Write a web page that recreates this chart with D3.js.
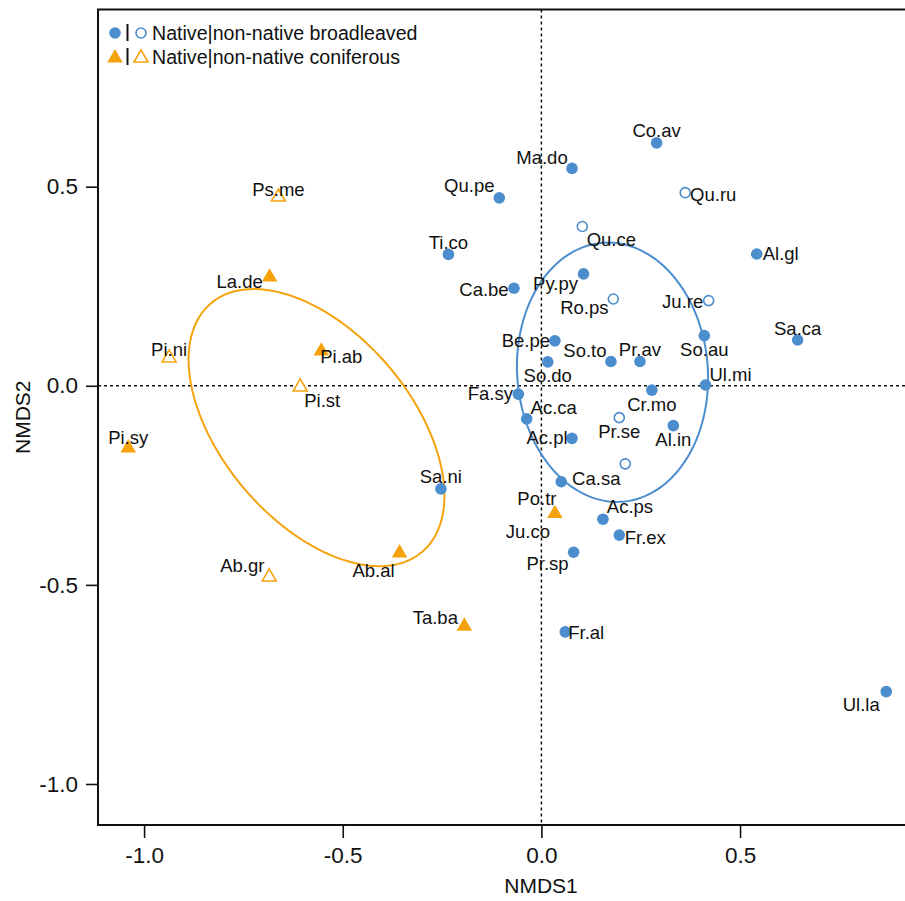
<!DOCTYPE html>
<html>
<head>
<meta charset="utf-8">
<script src="https://cdn.jsdelivr.net/npm/d3@7"></script>
<style>
  html, body { margin: 0; padding: 0; background: #fff; overflow: hidden; }
  svg { display: block; }
  text { font-family: "Liberation Sans", Arial, sans-serif; fill: #111; }
</style>
</head>
<body>
<div id="chart"></div>
<script>
// NMDS ordination scores of tree species: [species, NMDS1, NMDS2]
const nativeBroadleaved = [
  ["Co.av", 0.290, 0.610], ["Ma.do", 0.077, 0.546], ["Qu.pe", -0.106, 0.472],
  ["Ti.co", -0.234, 0.330], ["Al.gl", 0.542, 0.331], ["Py.py", 0.106, 0.281],
  ["Ca.be", -0.069, 0.245], ["Be.pe", 0.034, 0.113], ["So.au", 0.410, 0.126],
  ["Sa.ca", 0.645, 0.115], ["So.do", 0.016, 0.060], ["So.to", 0.175, 0.061],
  ["Pr.av", 0.248, 0.061], ["Ul.mi", 0.413, 0.002], ["Cr.mo", 0.278, -0.011],
  ["Fa.sy", -0.058, -0.021], ["Ac.ca", -0.037, -0.083], ["Al.in", 0.332, -0.100],
  ["Ac.pl", 0.077, -0.132], ["Ca.sa", 0.050, -0.241], ["Sa.ni", -0.253, -0.259],
  ["Ac.ps", 0.155, -0.335], ["Fr.ex", 0.196, -0.375], ["Pr.sp", 0.081, -0.418],
  ["Fr.al", 0.060, -0.618], ["Ul.la", 0.868, -0.768]
];
const nonNativeBroadleaved = [
  ["Qu.ru", 0.362, 0.485], ["Qu.ce", 0.103, 0.400], ["Ro.ps", 0.181, 0.218],
  ["Ju.re", 0.421, 0.214], ["Pr.se", 0.196, -0.080], ["", 0.211, -0.196]
];
const nativeConiferous = [
  ["La.de", -0.684, 0.273], ["Pi.ab", -0.554, 0.087], ["Pi.sy", -1.040, -0.156],
  ["Ab.al", -0.357, -0.420], ["Ta.ba", -0.194, -0.604], ["Ju.co", 0.034, -0.321]
];
const nonNativeConiferous = [
  ["Ps.me", -0.662, 0.474], ["Pi.ni", -0.937, 0.070], ["Pi.st", -0.607, -0.003],
  ["Ab.gr", -0.685, -0.480]
];
// species sharing a plotted position with another species
const sharedPosition = [["Po.tr", "Ju.co"]];

// group dispersion ellipses: centre, semi-axes and orientation (degrees)
const ellipseBroadleaved = [0.179, 0.034, 0.326, 0.240, -85.7];
const ellipseConiferous = [-0.566, -0.105, 0.410, 0.238, -49.5];

const xTicks = [-1.0, -0.5, 0.0, 0.5];
const yTicks = [-1.0, -0.5, 0.0, 0.5];
const xDomain = [-1.116, 1.114];
const yDomain = [-1.103, 0.945];

// label placement around each marker (pixels)
const labelOffset = {
  "Co.av": [0, -12], "Ma.do": [-30, -11], "Qu.pe": [-30, -12], "Qu.ru": [28, 2],
  "Qu.ce": [29, 13], "Ti.co": [0, -12], "Al.gl": [24, 0], "Py.py": [-28, 10],
  "Ca.be": [-30, 1], "Ro.ps": [-29, 9], "Ju.re": [-26, 1], "Be.pe": [-29, 0],
  "So.au": [0, 14], "So.do": [0, 14], "So.to": [-26, -11], "Pr.av": [0, -12],
  "Ul.mi": [25, -10], "Cr.mo": [0, 14], "Fa.sy": [-28, -1], "Ac.ca": [27, -11],
  "Pr.se": [0, 14], "Al.in": [0, 14], "Ac.pl": [-25, -1], "Ca.sa": [35, -3],
  "Sa.ni": [0, -12], "Po.tr": [-18, -15], "Ac.ps": [27, -13], "Ju.co": [-27, 18],
  "Fr.ex": [26, 2], "Pr.sp": [-26, 11], "Fr.al": [21, 1], "Ul.la": [-25, 13],
  "Sa.ca": [0, -12], "Ab.al": [-26, 17], "Ab.gr": [-27, -11], "Ta.ba": [-29, -9],
  "Ps.me": [0, -8], "La.de": [-30, 4], "Pi.ni": [0, -8], "Pi.st": [22, 14],
  "Pi.sy": [0, -10], "Pi.ab": [20, 5]
};

const W = 905, H = 901;
const plot = { left: 98, right: 984, top: 9.5, bottom: 825 };
const blue = "#4b8dcd", orange = "#f5a20c";

const svg = d3.select("#chart").append("svg").attr("width", W).attr("height", H);

const x = d3.scaleLinear().domain(xDomain).range([plot.left, plot.right]);
const y = d3.scaleLinear().domain(yDomain).range([plot.bottom, plot.top]);

// axes
const fmt = d => d.toFixed(1);
const xAxis = svg.append("g").attr("transform", `translate(0,${plot.bottom})`)
  .call(d3.axisBottom(x).tickValues(xTicks).tickFormat(fmt).tickSize(13).tickPadding(9));
const yAxis = svg.append("g").attr("transform", `translate(${plot.left},0)`)
  .call(d3.axisLeft(y).tickValues(yTicks).tickFormat(fmt).tickSize(12).tickPadding(8));
[xAxis, yAxis].forEach(g => {
  g.select(".domain").remove();
  g.selectAll(".tick line").attr("stroke", "#111").attr("stroke-width", 1.6);
  g.selectAll(".tick text").attr("font-size", 22.5).attr("fill", "#111")
    .attr("font-family", "'Liberation Sans', Arial, sans-serif");
});

svg.append("text").attr("x", (plot.left + plot.right) / 2).attr("y", 893)
  .attr("text-anchor", "middle").attr("font-size", 21).text("NMDS1");
svg.append("text")
  .attr("transform", `translate(30,${(plot.top + plot.bottom) / 2}) rotate(-90)`)
  .attr("text-anchor", "middle").attr("font-size", 21).text("NMDS2");

// zero reference lines
svg.append("line").attr("x1", x(0)).attr("x2", x(0)).attr("y1", plot.top).attr("y2", plot.bottom)
  .attr("stroke", "#111").attr("stroke-width", 1.5).attr("stroke-dasharray", "3,3");
svg.append("line").attr("x1", plot.left).attr("x2", plot.right).attr("y1", y(0)).attr("y2", y(0))
  .attr("stroke", "#111").attr("stroke-width", 1.5).attr("stroke-dasharray", "3,3");

// ellipses
function ellipsePath([cx, cy, a, b, deg]) {
  const t = deg * Math.PI / 180;
  const pts = d3.range(0, 361, 2).map(k => {
    const u = k * Math.PI / 180;
    const ex = a * Math.cos(u), ey = b * Math.sin(u);
    return [x(cx + ex * Math.cos(t) - ey * Math.sin(t)), y(cy + ex * Math.sin(t) + ey * Math.cos(t))];
  });
  return d3.line()(pts) + "Z";
}
svg.append("path").attr("d", ellipsePath(ellipseBroadleaved))
  .attr("fill", "none").attr("stroke", blue).attr("stroke-width", 2);
svg.append("path").attr("d", ellipsePath(ellipseConiferous))
  .attr("fill", "none").attr("stroke", orange).attr("stroke-width", 2);

// markers
const tri = d3.symbol().type(d3.symbolTriangle).size(104);
const triOpen = d3.symbol().type(d3.symbolTriangle).size(84);
const g = svg.append("g");
g.selectAll(".nb").data(nativeBroadleaved).join("circle")
  .attr("cx", d => x(d[1])).attr("cy", d => y(d[2])).attr("r", 5.8).attr("fill", blue);
g.selectAll(".ob").data(nonNativeBroadleaved).join("circle")
  .attr("cx", d => x(d[1])).attr("cy", d => y(d[2])).attr("r", 5)
  .attr("fill", "#fff").attr("stroke", blue).attr("stroke-width", 1.6);
g.selectAll(".nc").data(nativeConiferous).join("path")
  .attr("transform", d => `translate(${x(d[1])},${y(d[2])})`).attr("d", tri).attr("fill", orange);
g.selectAll(".oc").data(nonNativeConiferous).join("path")
  .attr("transform", d => `translate(${x(d[1])},${y(d[2])})`).attr("d", triOpen)
  .attr("fill", "#fff").attr("stroke", orange).attr("stroke-width", 1.6);

// species labels
const allPoints = [].concat(nativeBroadleaved, nonNativeBroadleaved, nativeConiferous, nonNativeConiferous)
  .filter(d => d[0]);
const byName = new Map(allPoints.map(d => [d[0], d]));
const labelRows = allPoints.concat(sharedPosition.map(([n, ref]) => [n, byName.get(ref)[1], byName.get(ref)[2]]));
svg.append("g").selectAll("text").data(labelRows).join("text")
  .attr("x", d => x(d[1]) + labelOffset[d[0]][0])
  .attr("y", d => y(d[2]) + labelOffset[d[0]][1])
  .attr("text-anchor", "middle").attr("dominant-baseline", "central")
  .attr("font-size", 18.5).text(d => d[0]);

// legend
const leg = svg.append("g");
const rows = [
  { y: 33, label: "Native|non-native broadleaved", kind: "circle", color: blue },
  { y: 57, label: "Native|non-native coniferous", kind: "triangle", color: orange }
];
rows.forEach(r => {
  if (r.kind === "circle") {
    leg.append("circle").attr("cx", 115).attr("cy", r.y).attr("r", 5.8).attr("fill", r.color);
    leg.append("circle").attr("cx", 141).attr("cy", r.y).attr("r", 5)
      .attr("fill", "#fff").attr("stroke", r.color).attr("stroke-width", 1.6);
  } else {
    leg.append("path").attr("transform", `translate(115,${r.y + 1})`).attr("d", tri).attr("fill", r.color);
    leg.append("path").attr("transform", `translate(141,${r.y + 1})`).attr("d", triOpen)
      .attr("fill", "#fff").attr("stroke", r.color).attr("stroke-width", 1.6);
  }
  leg.append("line").attr("x1", 127.5).attr("x2", 127.5).attr("y1", r.y - 9).attr("y2", r.y + 8)
    .attr("stroke", "#111").attr("stroke-width", 2);
  leg.append("text").attr("x", 152).attr("y", r.y).attr("dominant-baseline", "central")
    .attr("font-size", 19.6).text(r.label);
});

// plot frame
svg.append("rect").attr("x", plot.left).attr("y", plot.top)
  .attr("width", plot.right - plot.left).attr("height", plot.bottom - plot.top)
  .attr("fill", "none").attr("stroke", "#111").attr("stroke-width", 2);
</script>
</body>
</html>
